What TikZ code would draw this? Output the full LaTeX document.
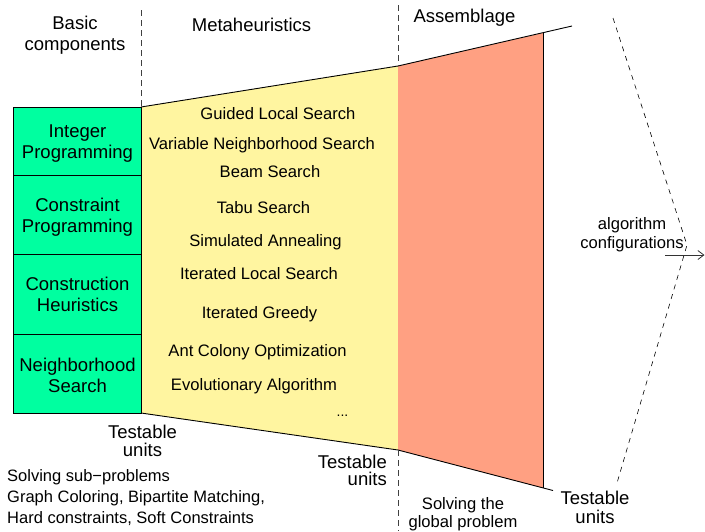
\documentclass[tikz,border=0pt]{standalone}
\usepackage{fontspec}
\setmainfont{Liberation Sans}
\usetikzlibrary{arrows.meta}
\definecolor{boxgreen}{RGB}{0,255,160}
\definecolor{metayellow}{RGB}{255,245,160}
\definecolor{assemorange}{RGB}{255,160,130}
\begin{document}
\begin{tikzpicture}[x=1pt,y=-1pt,
 big/.style={font=\fontsize{18.5}{21}\selectfont, align=center, inner sep=0pt},
 mid/.style={font=\fontsize{16.6}{19}\selectfont, inner sep=0pt},
 gbox/.style={draw=black, line width=0.9pt, fill=boxgreen, minimum width=128pt, inner sep=0pt},
 sepline/.style={black!75, line width=0.8pt, dash pattern=on 6pt off 4pt},
 chev/.style={black, line width=0.6pt, dash pattern=on 5pt off 5pt},
 edgeline/.style={black, line width=0.9pt}]
\useasboundingbox (0,0) rectangle (705,531);

% coordinates of the funnel
\coordinate (ytl) at (141,107);
\coordinate (ybl) at (141,413);
\coordinate (ytr) at (398,66);
\coordinate (ybr) at (398,450);
\coordinate (otr) at (543,33);
\coordinate (obr) at (543,488);
\coordinate (topend) at (572,26);
\coordinate (botend) at (553,490.5);

\fill[metayellow] (ytl) -- (ytr) -- (ybr) -- (ybl) -- cycle;
\fill[assemorange] (ytr) -- (otr) -- (obr) -- (ybr) -- cycle;
\draw[edgeline] (ytl) -- (ytr) -- (topend);
\draw[edgeline] (ybl) -- (ybr) -- (botend);
\draw[edgeline] (otr) -- (obr);

% separators
\coordinate (s1t) at (141,10);
\coordinate (s2t) at (398,5);
\coordinate (s2b) at (398,531);
\draw[sepline] (s1t) -- (ytl);
\draw[sepline] (s2t) -- (ytr);
\draw[sepline] (ybr) -- (s2b);

% chevron
\coordinate (c1) at (613,18);
\coordinate (c2) at (687,245);
\coordinate (c3) at (617,483);
\draw[chev] (c1) -- (c2) -- (c3);

% arrow
\coordinate (arrs) at (665,255);
\coordinate (arre) at (704.5,255);
\draw[black!80, line width=0.8pt, -{Straight Barb[length=6pt,width=9pt]}] (arrs) -- (arre);

% headers
\node[big] (hbasic) at (75,35) {Basic\\components};
\node[big] (hmeta) at (251.5,25) {Metaheuristics};
\node[big] (hass) at (464.5,18) {Assemblage};

% green boxes
\node[gbox, minimum height=68pt] (ip) at (77.5,141) {};
\node[gbox, minimum height=79pt] (cp) at (77.5,214.5) {};
\node[gbox, minimum height=80pt] (ch) at (77.5,294) {};
\node[gbox, minimum height=79pt] (ns) at (77.5,373.5) {};
\node[big] (ipt) at ([yshift=-3pt]ip.center) {Integer\\Programming};
\node[big] (cpt) at ([yshift=-3pt]cp.center) {Constraint\\Programming};
\node[big] (cht) at (ch.center) {Construction\\Heuristics};
\node[big] (nst) at ([yshift=-2pt]ns.center) {Neighborhood\\Search};

% metaheuristics list
\node[mid] (m1) at (278,114) {Guided Local Search};
\node[mid] (m2) at (262,145) {Variable Neighborhood Search};
\node[mid] (m3) at (270,172) {Beam Search};
\node[mid] (m4) at (263.5,208) {Tabu Search};
\node[mid] (m5) at (265.5,242) {Simulated Annealing};
\node[mid] (m6) at (259,274) {Iterated Local Search};
\node[mid] (m7) at (259.5,314) {Iterated Greedy};
\node[mid] (m8) at (257.5,352) {Ant Colony Optimization};
\node[mid] (m9) at (254,386) {Evolutionary Algorithm};
\node[font=\fontsize{14}{16}\selectfont, inner sep=0pt] (m10) at (342.5,416) {...};

% testable units
\node[big, font=\fontsize{18.5}{18.5}\selectfont] (tu1) at (142.5,441) {Testable\\units};
\node[big, font=\fontsize{18.5}{17.5}\selectfont, align=right, anchor=east] (tu2) at (387,470.5) {Testable\\units};
\node[big, font=\fontsize{18.5}{19}\selectfont] (tu3) at (595,507.5) {Testable\\units};

% bottom texts
\node[font=\fontsize{16.5}{21}\selectfont, align=left, anchor=west, inner sep=0pt] (sub) at (7,497.5)
 {Solving sub\textminus problems\\Graph Coloring, Bipartite Matching,\\Hard constraints, Soft Constraints};
\node[font=\fontsize{16.6}{18}\selectfont, align=center, inner sep=0pt] (glob) at (463,514) {Solving the\\global problem};
\node[font=\fontsize{16.6}{19}\selectfont, align=center, inner sep=0pt] (conf) at (632,234.5) {algorithm\\configurations};
\end{tikzpicture}
\end{document}
